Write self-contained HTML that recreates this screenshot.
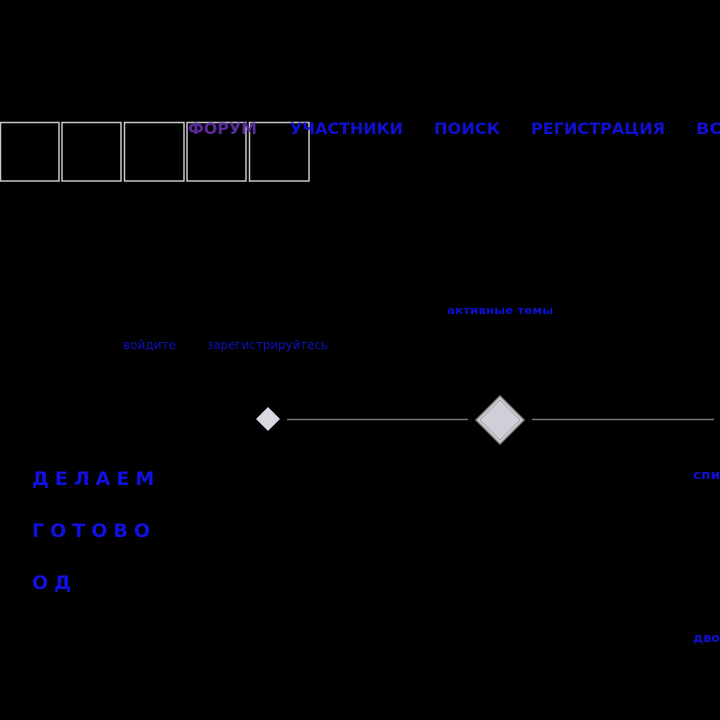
<!DOCTYPE html>
<html><head><meta charset="utf-8"><style>
html,body{margin:0;padding:0;background:#000;width:720px;height:720px;overflow:hidden}
svg{display:block}
text{font-family:"DejaVu Sans","Liberation Sans",sans-serif;font-weight:bold}
</style></head><body>
<svg width="720" height="720" viewBox="0 0 720 720">
<rect width="720" height="720" fill="#000"/>
<g fill="none" stroke="#c8c8c8" stroke-width="1.5">
<rect x="0.5" y="122.5" width="58.5" height="58.5"/>
<rect x="62" y="122.5" width="59" height="58.5"/>
<rect x="124.5" y="122.5" width="59.5" height="58.5"/>
<rect x="187" y="122.5" width="59" height="58.5"/>
<rect x="249.5" y="122.5" width="59.5" height="58.5"/>
</g>
<g font-size="16">
<text x="188" y="134" fill="#5a2a9a" textLength="69" lengthAdjust="spacingAndGlyphs">ФОРУМ</text>
<text x="290" y="134" fill="#1010d0" textLength="113" lengthAdjust="spacingAndGlyphs">УЧАСТНИКИ</text>
<text x="434" y="134" fill="#1010d0" textLength="66" lengthAdjust="spacingAndGlyphs">ПОИСК</text>
<text x="531" y="134" fill="#1010d0" textLength="134" lengthAdjust="spacingAndGlyphs">РЕГИСТРАЦИЯ</text>
<text x="696" y="134" fill="#1010d0" textLength="70" lengthAdjust="spacingAndGlyphs">ВОЙТИ</text>
</g>
<text x="447" y="314" font-size="11" fill="#1010d0" textLength="106" lengthAdjust="spacingAndGlyphs">активные темы</text>
<text x="123" y="349" font-size="12" fill="#1010c0" style="font-weight:normal" textLength="53" lengthAdjust="spacingAndGlyphs">войдите</text>
<text x="207" y="349" font-size="12" fill="#1010c0" style="font-weight:normal" textLength="121" lengthAdjust="spacingAndGlyphs">зарегистрируйтесь</text>
<polygon points="268,407 280,419 268,431 256,419" fill="#d8d8e0"/>
<line x1="287" y1="419.5" x2="468" y2="419.5" stroke="#777" stroke-width="1.5"/>
<line x1="532" y1="419.5" x2="714" y2="419.5" stroke="#777" stroke-width="1.5"/>
<polygon points="500,396 524,420 500,444 476,420" fill="#d0d0d8" stroke="#888" stroke-width="1.5"/>
<polygon points="500,400 520,420 500,440 480,420" fill="none" stroke="#aaa" stroke-width="1"/>
<g font-size="19" fill="#1010e0" letter-spacing="6">
<text x="32" y="485">ДЕЛАЕМ</text>
<text x="32" y="537">ГОТОВО</text>
<text x="32" y="589">ОД</text>
</g>
<text x="693" y="479" font-size="12" fill="#1010d0" textLength="54" lengthAdjust="spacingAndGlyphs">список</text>
<text x="693" y="642" font-size="12" fill="#1010d0" textLength="36" lengthAdjust="spacingAndGlyphs">двор</text>
</svg>
</body></html>
